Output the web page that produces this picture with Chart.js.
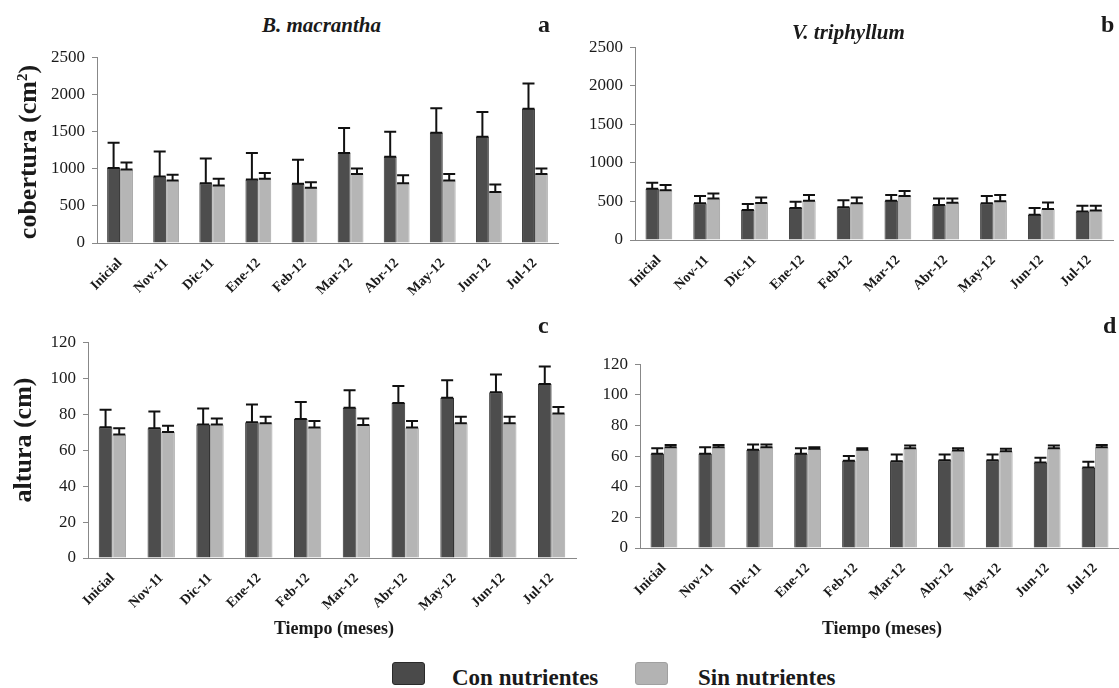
<!DOCTYPE html>
<html>
<head>
<meta charset="utf-8">
<script src="https://cdn.jsdelivr.net/npm/chart.js@4.4.0/dist/chart.umd.min.js"></script>
<style>
  body { margin: 0; background: #fff; width: 1119px; height: 688px; overflow: hidden; position: relative;
         font-family: 'Liberation Serif', 'DejaVu Serif', serif; color: #1a1a1a; }
  canvas { position: absolute; }
  .txt { position: absolute; white-space: nowrap; line-height: 1; }
  .ytitle { position: absolute; white-space: nowrap; font-weight: bold; font-size: 26px; line-height: 1;
            transform: translate(-50%, -50%) rotate(-90deg); }
  .sw { position: absolute; width: 31px; height: 21px; border-radius: 3px; }
</style>
</head>
<body>
<canvas id="chartA" width="525" height="280" style="left:40px;top:40px"></canvas>
<canvas id="chartB" width="539" height="290" style="left:580px;top:30px"></canvas>
<canvas id="chartC" width="545" height="305" style="left:40px;top:325px"></canvas>
<canvas id="chartD" width="529" height="283" style="left:590px;top:347px"></canvas>

<div class="txt" style="left:262px;top:15px;font-size:21px;font-weight:bold;font-style:italic;">B. macrantha</div>
<div class="txt" style="left:792px;top:22px;font-size:21px;font-weight:bold;font-style:italic;">V. triphyllum</div>
<div class="txt" style="left:538px;top:12px;font-size:24px;font-weight:bold;">a</div>
<div class="txt" style="left:1101px;top:12px;font-size:24px;font-weight:bold;">b</div>
<div class="txt" style="left:538px;top:313px;font-size:24px;font-weight:bold;">c</div>
<div class="txt" style="left:1103px;top:313px;font-size:24px;font-weight:bold;">d</div>

<div class="ytitle" style="left:28px;top:152px;">cobertura (cm<sup style="font-size:15px">2</sup>)</div>
<div class="ytitle" style="left:23px;top:440px;">altura (cm)</div>

<div class="txt" style="left:334px;top:619px;font-size:18px;font-weight:bold;transform:translateX(-50%);">Tiempo (meses)</div>
<div class="txt" style="left:882px;top:619px;font-size:18px;font-weight:bold;transform:translateX(-50%);">Tiempo (meses)</div>

<div class="sw" style="left:392px;top:662px;background:#4a4a4a;border:1px solid #2a2a2a;"></div>
<div class="txt" style="left:452px;top:666px;font-size:23px;font-weight:bold;">Con nutrientes</div>
<div class="sw" style="left:635px;top:662px;background:#b3b3b3;border:1px solid #a0a0a0;"></div>
<div class="txt" style="left:698px;top:666px;font-size:23px;font-weight:bold;">Sin nutrientes</div>

<script>
// meses
const meses = ['Inicial', 'Nov-11', 'Dic-11', 'Ene-12', 'Feb-12', 'Mar-12', 'Abr-12', 'May-12', 'Jun-12', 'Jul-12'];

// a) cobertura B. macrantha
const conA = [1010, 894, 805, 854, 796, 1212, 1159, 1482, 1429, 1805];
const conAErr = [340, 336, 332, 358, 324, 337, 337, 332, 332, 341];
const sinA = [990, 840, 775, 863, 743, 929, 805, 840, 686, 929];
const sinAErr = [94, 80, 88, 79, 75, 75, 105, 89, 102, 75];

// b) cobertura V. triphyllum
const conB = [665, 475, 390, 415, 424, 508, 453, 475, 326, 369];
const conBErr = [77, 97, 76, 81, 93, 77, 85, 97, 89, 76];
const sinB = [644, 538, 479, 508, 475, 572, 483, 504, 403, 381];
const sinBErr = [68, 64, 72, 77, 76, 64, 55, 81, 84, 64];

// c) altura B. macrantha
const conC = [72.7, 72.2, 74.2, 75.5, 77.3, 83.6, 86.2, 89.1, 92.2, 96.7];
const conCErr = [9.7, 9.3, 8.9, 9.8, 9.4, 9.7, 9.4, 9.8, 9.8, 9.8];
const sinC = [68.7, 70, 74.2, 74.9, 72.5, 74, 72.5, 74.9, 74.9, 80.4];
const sinCErr = [3.5, 3.6, 3.4, 3.6, 3.7, 3.6, 3.7, 3.6, 3.6, 3.6];

// d) altura V. triphyllum
const conD = [61.6, 61.6, 64.1, 61.6, 56.9, 56.7, 57.3, 57.3, 55.9, 52.5];
const conDErr = [3.6, 4.2, 3.4, 3.6, 3.2, 4.3, 3.7, 3.7, 3.1, 3.8];
const sinD = [65.8, 65.8, 65.8, 64.8, 64.1, 65.2, 63.7, 63.1, 65.2, 65.8];
const sinDErr = [1.5, 1.5, 1.7, 1.0, 1.1, 1.7, 1.5, 1.7, 1.7, 1.5];

const serif = 'Liberation Serif, serif';

// barras de error: linea desde la media hacia arriba, con tapas
const errorBars = {
    id: 'errorBars',
    afterDatasetsDraw(chart) {
        const ctx = chart.ctx;
        const yScale = chart.scales.y;
        chart.data.datasets.forEach((ds, i) => {
            const meta = chart.getDatasetMeta(i);
            meta.data.forEach((bar, j) => {
                const top = yScale.getPixelForValue(ds.data[j] + ds.errors[j]);
                const base = bar.y;
                const half = 6;
                ctx.save();
                ctx.strokeStyle = '#111';
                ctx.lineWidth = 2;
                ctx.beginPath();
                ctx.moveTo(bar.x, base);
                ctx.lineTo(bar.x, top);
                ctx.moveTo(bar.x - half, top);
                ctx.lineTo(bar.x + half, top);
                ctx.moveTo(bar.x - half, base);
                ctx.lineTo(bar.x + half, base);
                ctx.stroke();
                ctx.restore();
            });
        });
    }
};

function makeChart(id, con, conErr, sin, sinErr, max, step, yWidth, xHeight, padTop, padRight) {
    const ctx = document.getElementById(id).getContext('2d');
    return new Chart(ctx, {
        type: 'bar',
        data: {
            labels: meses,
            datasets: [{
                label: 'Con nutrientes',
                data: con,
                errors: conErr,
                backgroundColor: '#4d4d4d',
                borderColor: '#333',
                borderWidth: 1,
                categoryPercentage: 0.56,
                barPercentage: 1.0
            }, {
                label: 'Sin nutrientes',
                data: sin,
                errors: sinErr,
                backgroundColor: '#b5b5b5',
                borderColor: '#a5a5a5',
                borderWidth: 1,
                categoryPercentage: 0.56,
                barPercentage: 1.0
            }]
        },
        options: {
            responsive: false,
            animation: false,
            layout: { padding: { top: padTop, right: padRight, left: 0, bottom: 0 } },
            plugins: {
                legend: { display: false },
                tooltip: { enabled: false }
            },
            scales: {
                x: {
                    grid: { display: false, drawTicks: false },
                    border: { display: true, color: '#888', width: 1 },
                    ticks: {
                        autoSkip: false,
                        minRotation: 45,
                        maxRotation: 45,
                        padding: 12,
                        color: '#1a1a1a',
                        font: { family: serif, size: 14, weight: 'bold' }
                    },
                    afterFit: s => { s.height = xHeight; }
                },
                y: {
                    min: 0,
                    max: max,
                    grid: { display: true, drawOnChartArea: false, drawTicks: true, tickLength: 5, color: '#888' },
                    border: { display: true, color: '#888', width: 1 },
                    ticks: {
                        stepSize: step,
                        padding: 7,
                        color: '#1a1a1a',
                        font: { family: serif, size: 17 },
                        callback: v => String(v)
                    },
                    afterFit: s => { s.width = yWidth; }
                }
            }
        },
        plugins: [errorBars]
    });
}

makeChart('chartA', conA, conAErr, sinA, sinAErr, 2500, 500, 57, 77, 13, 7);
makeChart('chartB', conB, conBErr, sinB, sinBErr, 2500, 500, 55, 80, 13, 6);
makeChart('chartC', conC, conCErr, sinC, sinCErr, 120, 20, 48, 72, 13, 9);
makeChart('chartD', conD, conDErr, sinD, sinDErr, 120, 20, 50, 82, 13, 0);
</script>
</body>
</html>
